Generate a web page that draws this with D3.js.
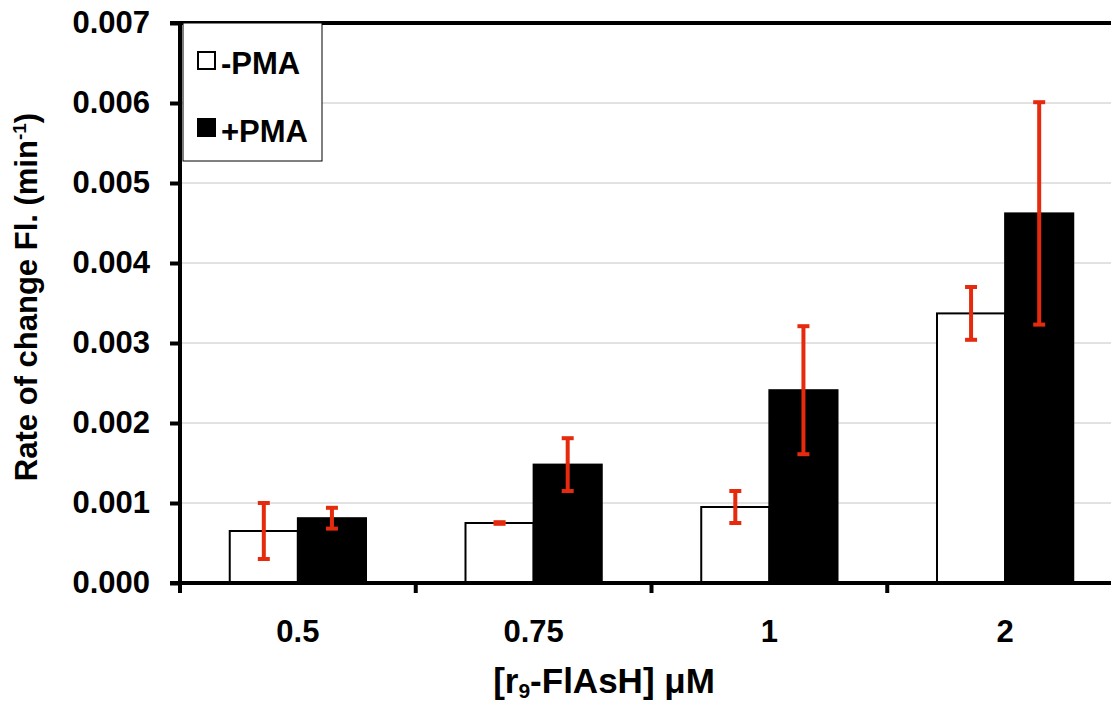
<!DOCTYPE html>
<html>
<head>
<meta charset="utf-8">
<script src="https://cdn.jsdelivr.net/npm/d3@7"></script>
<style>
  body { margin: 0; background: #fff; }
  svg { display: block; font-family: "Liberation Sans", Arial, sans-serif; font-weight: bold; }
</style>
</head>
<body>
<svg id="chart"></svg>
<script>
// data
const categories = ["0.5", "0.75", "1", "2"];
const seriesNames = ["-PMA", "+PMA"];
const minusPMA = [0.00065, 0.00075, 0.00095, 0.00337];
const minusPMAErr = [0.00035, 0.00001, 0.0002, 0.00033];
const plusPMA = [0.00081, 0.00148, 0.00241, 0.00462];
const plusPMAErr = [0.00013, 0.00033, 0.0008, 0.00139];
const yTicks = [0, 0.001, 0.002, 0.003, 0.004, 0.005, 0.006, 0.007];

const W = 1111, H = 706;
const pLeft = 180, pTop = 23, pBottom = 583, pRight = 1123;

const svg = d3.select("#chart").attr("width", W).attr("height", H);
svg.append("rect").attr("width", W).attr("height", H).attr("fill", "#fff");

const x0 = d3.scaleBand().domain(categories).range([pLeft, pRight]).padding(0);
const barW = x0.bandwidth() * 0.289;
const x1 = d3.scaleBand().domain(seriesNames)
  .range([x0.bandwidth() / 2 - barW, x0.bandwidth() / 2 + barW]);
const y = d3.scaleLinear().domain([0, 0.007]).range([pBottom, pTop]);

// gridlines
svg.append("g")
  .selectAll("line")
  .data(yTicks.filter(t => t > 0 && t < 0.007))
  .join("line")
  .attr("x1", pLeft).attr("x2", W)
  .attr("y1", d => y(d)).attr("y2", d => y(d))
  .attr("stroke", "#d9d9d9").attr("stroke-width", 1.5);

// bars
const rows = categories.map((c, i) => ({
  cat: c,
  vals: [
    { s: "-PMA", v: minusPMA[i], e: minusPMAErr[i] },
    { s: "+PMA", v: plusPMA[i], e: plusPMAErr[i] }
  ]
}));

const groups = svg.append("g").selectAll("g")
  .data(rows).join("g")
  .attr("transform", d => `translate(${x0(d.cat)},0)`);

groups.selectAll("rect")
  .data(d => d.vals).join("rect")
  .attr("x", d => x1(d.s))
  .attr("y", d => y(d.v))
  .attr("width", x1.bandwidth())
  .attr("height", d => y(0) - y(d.v))
  .attr("fill", d => d.s === "-PMA" ? "#fff" : "#000")
  .attr("stroke", "#000")
  .attr("stroke-width", 2);

// error bars
const errColor = "#e62a0e";
const capW = 12;
const eb = groups.selectAll("g.err")
  .data(d => d.vals).join("g").attr("class", "err");
eb.append("line")
  .attr("x1", d => x1(d.s) + x1.bandwidth() / 2)
  .attr("x2", d => x1(d.s) + x1.bandwidth() / 2)
  .attr("y1", d => y(d.v + d.e))
  .attr("y2", d => y(d.v - d.e))
  .attr("stroke", errColor).attr("stroke-width", 4);
eb.selectAll("line.cap")
  .data(d => [d.v + d.e, d.v - d.e].map(t => ({ s: d.s, t })))
  .join("line").attr("class", "cap")
  .attr("x1", d => x1(d.s) + x1.bandwidth() / 2 - capW / 2)
  .attr("x2", d => x1(d.s) + x1.bandwidth() / 2 + capW / 2)
  .attr("y1", d => y(d.t)).attr("y2", d => y(d.t))
  .attr("stroke", errColor).attr("stroke-width", 4);

// top frame line
svg.append("line")
  .attr("x1", pLeft - 10).attr("x2", W)
  .attr("y1", y(0.007)).attr("y2", y(0.007))
  .attr("stroke", "#000").attr("stroke-width", 4);

// y axis
const yAxis = svg.append("g")
  .attr("transform", `translate(${pLeft},0)`)
  .call(d3.axisLeft(y).tickValues(yTicks).tickFormat(d3.format(".3f")).tickSize(10).tickPadding(20));
yAxis.select(".domain").attr("stroke-width", 4).attr("d", `M0,${pTop}V${pBottom + 2}`);
yAxis.selectAll(".tick line").attr("stroke-width", 4);
yAxis.selectAll(".tick text").attr("font-size", 31).attr("font-family", null).attr("fill", "#000");

// x axis
const xAxis = svg.append("g")
  .attr("transform", `translate(0,${pBottom})`)
  .call(d3.axisBottom(x0).tickSize(0).tickPadding(37));
xAxis.select(".domain").attr("stroke-width", 4).attr("d", `M${pLeft - 10},0H${W}`);
xAxis.selectAll(".tick text").attr("font-size", 31).attr("font-family", null).attr("fill", "#000");
svg.append("g").selectAll("line")
  .data(categories)
  .join("line")
  .attr("x1", d => x0(d)).attr("x2", d => x0(d))
  .attr("y1", pBottom).attr("y2", pBottom + 10)
  .attr("stroke", "#000").attr("stroke-width", 4);

// axis titles
const xt = svg.append("text")
  .attr("x", 604).attr("y", 693)
  .attr("text-anchor", "middle")
  .attr("font-size", 35);
xt.append("tspan").text("[r");
xt.append("tspan").attr("font-size", 21).attr("dy", 5).text("9");
xt.append("tspan").attr("dy", -5).text("-FlAsH] \u03bcM");

const yt = svg.append("text")
  .attr("transform", `translate(37,297) rotate(-90)`)
  .attr("text-anchor", "middle")
  .attr("font-size", 31);
yt.append("tspan").text("Rate of change Fl. (min");
yt.append("tspan").attr("font-size", 19).attr("dy", -11).text("-1");
yt.append("tspan").attr("dy", 11).text(")");

// legend
const lg = svg.append("g");
lg.append("rect")
  .attr("x", 183).attr("y", pTop).attr("width", 139).attr("height", 138)
  .attr("fill", "#fff").attr("stroke", "#000").attr("stroke-width", 1);
seriesNames.forEach((s, i) => {
  lg.append("rect")
    .attr("x", 198).attr("y", 52 + i * 67).attr("width", 17).attr("height", 17)
    .attr("fill", i === 0 ? "#fff" : "#000")
    .attr("stroke", "#000").attr("stroke-width", 2);
  lg.append("text")
    .attr("x", 221).attr("y", 74 + i * 68)
    .attr("font-size", 31).text(s);
});
</script>
</body>
</html>
